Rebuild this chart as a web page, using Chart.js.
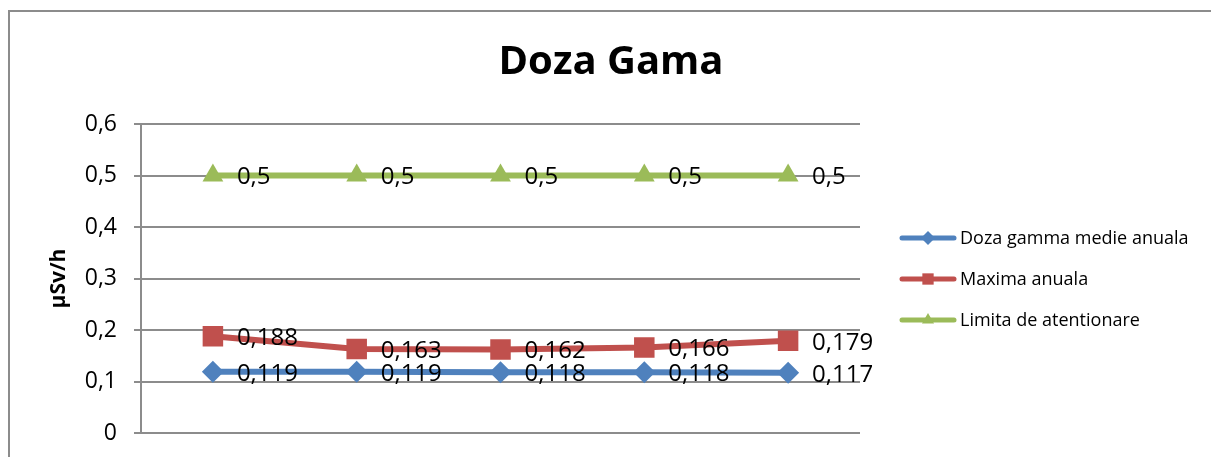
<!DOCTYPE html>
<html>
<head>
<meta charset="utf-8">
<script src="https://cdn.jsdelivr.net/npm/chart.js@4/dist/chart.umd.min.js"></script>
<style>
html,body{margin:0;padding:0;background:#fff;}
canvas{display:block;}
</style>
</head>
<body>
<canvas id="c" width="1211" height="457"></canvas>
<script>
const chartTitle = 'Doza Gama';
const yAxisTitle = 'µSv/h';
const categories = ['', '', '', '', ''];
const seriesNames = ['Doza gamma medie anuala', 'Maxima anuala', 'Limita de atentionare'];
const dozaMedie = [0.119, 0.119, 0.118, 0.118, 0.117];
const maximaAnuala = [0.188, 0.163, 0.162, 0.166, 0.179];
const limitaAtentionare = [0.5, 0.5, 0.5, 0.5, 0.5];
const yTicks = [0, 0.1, 0.2, 0.3, 0.4, 0.5, 0.6];

const fmt = v => String(v).replace('.', ',');
const FONT = '"Open Sans", "Liberation Sans", sans-serif';

const borderPlugin = {
  id: 'outerBorder',
  beforeDraw(chart) {
    const ctx = chart.ctx;
    ctx.save();
    ctx.fillStyle = '#fff';
    ctx.fillRect(0, 0, chart.width, chart.height);
    ctx.strokeStyle = '#8c8c8c';
    ctx.lineWidth = 2;
    ctx.strokeRect(9, 11, chart.width + 20, chart.height + 40);
    ctx.restore();
  }
};

const titlePlugin = {
  id: 'customTitle',
  afterDraw(chart) {
    const ctx = chart.ctx;
    ctx.save();
    ctx.font = 'bold 40px ' + FONT;
    ctx.fillStyle = '#000';
    ctx.textAlign = 'center';
    ctx.textBaseline = 'middle';
    ctx.fillText(chartTitle, 611, 63);
    ctx.restore();
  }
};

const labelPlugin = {
  id: 'valueLabels',
  afterDatasetsDraw(chart) {
    const ctx = chart.ctx;
    ctx.save();
    ctx.font = '24px ' + FONT;
    ctx.fillStyle = '#000';
    ctx.textAlign = 'left';
    ctx.textBaseline = 'middle';
    chart.data.datasets.forEach((ds, i) => {
      const meta = chart.getDatasetMeta(i);
      meta.data.forEach((pt, j) => {
        ctx.fillText(fmt(ds.data[j]), pt.x + 24, pt.y + 2);
      });
    });
    ctx.restore();
  }
};

const legendPlugin = {
  id: 'lineLegend',
  afterDraw(chart) {
    const ctx = chart.ctx;
    const x0 = 900, x1 = 956, y0 = 238, dy = 41;
    ctx.save();
    chart.data.datasets.forEach((ds, i) => {
      const y = y0 + i * dy;
      ctx.strokeStyle = ds.borderColor;
      ctx.lineWidth = 5;
      ctx.lineCap = 'round';
      ctx.beginPath();
      ctx.moveTo(x0 + 2, y);
      ctx.lineTo(x1 - 2, y);
      ctx.stroke();
      ctx.fillStyle = ds.backgroundColor;
      ctx.strokeStyle = ds.borderColor;
      Chart.helpers.drawPoint(ctx, {pointStyle: ds.pointStyle, radius: ds.legendRadius, rotation: 0, borderWidth: 0}, (x0 + x1) / 2, y);
      ctx.font = '18px ' + FONT;
      ctx.fillStyle = '#000';
      ctx.textAlign = 'left';
      ctx.textBaseline = 'middle';
      ctx.fillText(ds.label, x1 + 4, y + 1);
    });
    ctx.restore();
  }
};

new Chart(document.getElementById('c'), {
  type: 'line',
  data: {
    labels: categories,
    datasets: [
      {label: seriesNames[0], data: dozaMedie, borderColor: '#4F81BD', backgroundColor: '#4F81BD',
       borderWidth: 6, pointStyle: 'rectRot', pointRadius: 11, legendRadius: 7, pointBorderWidth: 0, tension: 0},
      {label: seriesNames[1], data: maximaAnuala, borderColor: '#C0504D', backgroundColor: '#C0504D',
       borderWidth: 6, pointStyle: 'rect', pointRadius: 14.5, legendRadius: 8, pointBorderWidth: 0, tension: 0},
      {label: seriesNames[2], data: limitaAtentionare, borderColor: '#9BBB59', backgroundColor: '#9BBB59',
       borderWidth: 6, pointStyle: 'triangle', pointRadius: 12, legendRadius: 7, pointBorderWidth: 0, tension: 0}
    ]
  },
  options: {
    responsive: false,
    animation: false,
    layout: {padding: {left: 0, top: 124, right: 351, bottom: 24}},
    plugins: {legend: {display: false}, title: {display: false}, tooltip: {enabled: false}},
    scales: {
      x: {
        type: 'category',
        offset: true,
        ticks: {display: false},
        grid: {display: false, drawTicks: false},
        border: {display: false},
        afterFit(s) { s.height = 0; s.paddingLeft = 0; s.paddingRight = 0; }
      },
      y: {
        min: 0, max: 0.6,
        afterBuildTicks(s) { s.ticks = yTicks.map(v => ({value: v})); },
        ticks: {
          color: '#000', padding: 17,
          font: {family: FONT, size: 23},
          callback: v => fmt(v)
        },
        grid: {color: '#8c8c8c', lineWidth: 2, tickLength: 7},
        border: {color: '#8c8c8c', width: 2},
        title: {display: true, text: yAxisTitle, color: '#000',
                font: {family: FONT, size: 21, weight: 'bold'}, padding: {top: 46, bottom: 0}},
        afterFit(s) { s.width = 141; s.paddingTop = 0; s.paddingBottom = 0; }
      }
    }
  },
  plugins: [borderPlugin, titlePlugin, labelPlugin, legendPlugin]
});
</script>
</body>
</html>
